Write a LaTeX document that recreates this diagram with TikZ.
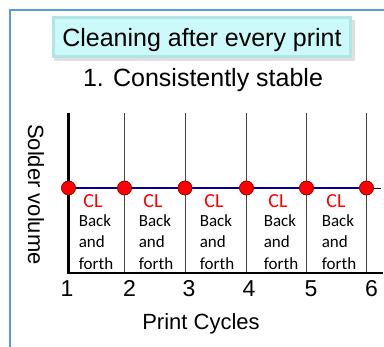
\documentclass[tikz,border=0pt]{standalone}
\usepackage{fontspec}
\setmainfont{Liberation Sans}
\newfontfamily\cellfont{Carlito}
\usetikzlibrary{positioning, calc}
\definecolor{frameblue}{HTML}{5B9BD5}
\definecolor{titlecyan}{HTML}{CCFAFA}
\definecolor{titleedge}{HTML}{B2E6E6}
\definecolor{levelnavy}{HTML}{000099}

\begin{document}
\begin{tikzpicture}[x=1pt, y=-1pt,
  cellnote/.style={font=\cellfont\fontsize{17}{21.7}\selectfont, align=left, inner sep=0pt},
  cltag/.style={font=\cellfont\fontsize{20}{20}\selectfont, text=red, inner sep=0pt},
  cycledot/.style={circle, fill=red, draw=red!55!black, line width=0.5pt, minimum size=14pt, inner sep=0pt},
  ticklabel/.style={font=\fontsize{23}{23}\selectfont, inner sep=0pt, anchor=base}]
  \useasboundingbox (0,0) rectangle (384,347);

  % Outer frame (only left and top edges show)
  \draw[frameblue, line width=2pt] (10,360) -- (10,10) -- (400,10);

  % Title box with bevel and shadow
  \fill[black!12] (54,20) rectangle (355,61);
  \fill[titleedge] (52,16) rectangle (352,58);
  \fill[titlecyan] (55,19) rectangle (349,55);
  \node[anchor=base, font=\fontsize{25}{25}\selectfont] (title) at (202,47) {Cleaning after every print};
  \node[anchor=base, font=\fontsize{25}{25}\selectfont] (subtitle) at (203,87) {1. Consistently stable};

  % Grid lines for each print cycle
  \foreach \gx [count=\i] in {68.5,124.5,185,246.5,306.5,366.5} {
    \coordinate (top\i) at (\gx,113);
    \coordinate (bot\i) at (\gx,273);
    \node[cycledot] (d\i) at (\gx,188) {};
  }
  \foreach \i in {2,...,6}
    \draw[gray!55!black, line width=0.8pt] (top\i) -- (bot\i);

  % Axes
  \coordinate (xend) at (383,273);
  \draw[line width=2.6pt] (top1) -- (bot1) -- (xend);

  % Constant solder level
  \coordinate (tickend) at (381,188);
  \draw[line width=0.8pt] (d6) -- (tickend);
  \draw[levelnavy, line width=2.8pt] (d1) -- (d2) -- (d3) -- (d4) -- (d5) -- (d6);
  \foreach \i in {1,...,6}
    \node[cycledot] at (d\i) {};

  % Cleaning notes
  \foreach \cx [count=\i] in {96,156,217,281,339} {
    \node[cellnote] (note\i) at (\cx,242) {Back\\and\\forth};
    \node[cltag, above=6.5pt of note\i.north, xshift=-3pt] (cl\i) {CL};
  }

  % Tick labels
  \foreach \lx [count=\i] in {67,129.5,189,249,311,371.5}
    \node[ticklabel] (n\i) at (\lx,296.5) {\i};

  % Axis titles
  \node[font=\fontsize{22}{22}\selectfont] (xtitle) at (201,323.5) {Print Cycles};
  \node[font=\fontsize{22}{22}\selectfont, rotate=-90] (ytitle) at (36,194.5) {Solder volume};
\end{tikzpicture}
\end{document}
